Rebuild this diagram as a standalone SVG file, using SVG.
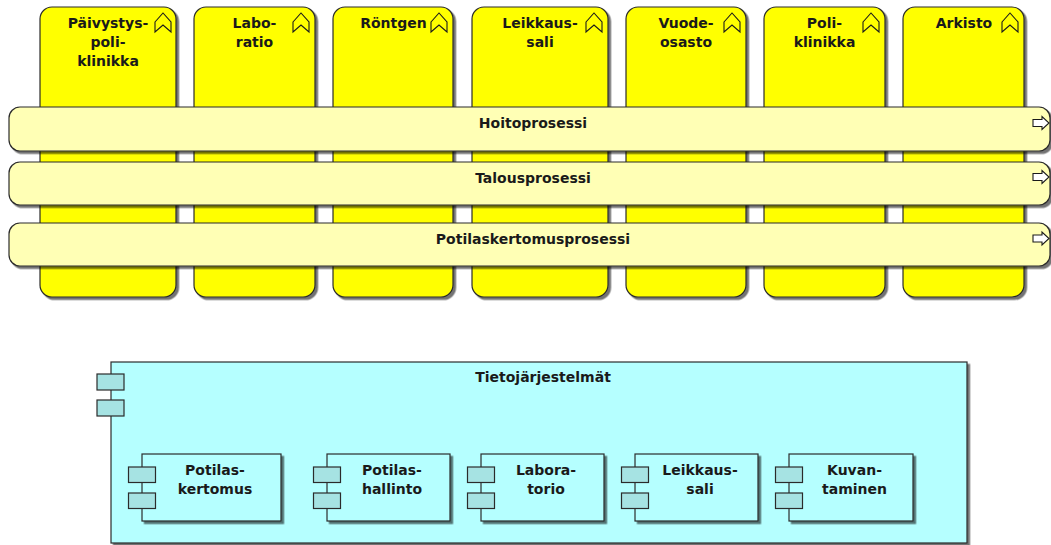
<svg xmlns="http://www.w3.org/2000/svg" width="1051" height="545" viewBox="0 0 1051 545">
  <defs>
    <filter id="shadow" x="-5%" y="-5%" width="115%" height="120%">
      <feDropShadow dx="2.5" dy="2.5" stdDeviation="0.7" flood-color="#000" flood-opacity="0.55"/>
    </filter>
    <!-- business function glyph (upward chevron) -->
    <path id="fn-icon" d="M0,9 L8,0 L16,9 L16,19 L8,12 L0,19 Z"/>
    <!-- process arrow glyph -->
    <path id="proc-icon" d="M0,-3.5 L9,-3.5 L9,-6.5 L16,0 L9,6.5 L9,3.5 L0,3.5 Z"/>
  </defs>
  <style>
    text { font-family: "DejaVu Sans", "Liberation Sans", sans-serif; font-weight: bold; font-size: 14px; fill: #1a1a1a; text-anchor: middle; }
    .func { fill: #ffff00; stroke: #2b2b2b; stroke-width: 1.2; filter: url(#shadow); }
    .proc { fill: #ffffb5; stroke: #2b2b2b; stroke-width: 1.2; filter: url(#shadow); }
    .comp { fill: #b5ffff; stroke: #2b2b2b; stroke-width: 1.2; filter: url(#shadow); }
    .port { fill: #a6e3e3; stroke: #2b2b2b; stroke-width: 1.2; }
    .glyph { fill: none; stroke: #1a1a1a; stroke-width: 1.1; stroke-linejoin: miter; }
    .glyph-w { fill: #ffffff; stroke: #1a1a1a; stroke-width: 1.1; }
  </style>

  <rect width="1051" height="545" fill="#ffffff"/>

  <!-- business functions (columns) -->
  <g id="fn-paivystys">
    <rect class="func" x="40" y="7" width="136" height="290" rx="12"/>
    <use href="#fn-icon" class="glyph" x="155" y="13"/>
    <text x="108" y="28">Päivystys-</text>
    <text x="108" y="47">poli-</text>
    <text x="108" y="66">klinikka</text>
  </g>
  <g id="fn-laboratio">
    <rect class="func" x="194" y="7" width="121" height="290" rx="12"/>
    <use href="#fn-icon" class="glyph" x="293" y="13"/>
    <text x="254.5" y="28">Labo-</text>
    <text x="254.5" y="47">ratio</text>
  </g>
  <g id="fn-rontgen">
    <rect class="func" x="333" y="7" width="120" height="290" rx="12"/>
    <use href="#fn-icon" class="glyph" x="431" y="13"/>
    <text x="393.5" y="28">Röntgen</text>
  </g>
  <g id="fn-leikkaussali">
    <rect class="func" x="472" y="7" width="136" height="290" rx="12"/>
    <use href="#fn-icon" class="glyph" x="586" y="13"/>
    <text x="540" y="28">Leikkaus-</text>
    <text x="540" y="47">sali</text>
  </g>
  <g id="fn-vuodeosasto">
    <rect class="func" x="626" y="7" width="120" height="290" rx="12"/>
    <use href="#fn-icon" class="glyph" x="724" y="13"/>
    <text x="686" y="28">Vuode-</text>
    <text x="686" y="47">osasto</text>
  </g>
  <g id="fn-poliklinikka">
    <rect class="func" x="764" y="7" width="121" height="290" rx="12"/>
    <use href="#fn-icon" class="glyph" x="863" y="13"/>
    <text x="824.5" y="28">Poli-</text>
    <text x="824.5" y="47">klinikka</text>
  </g>
  <g id="fn-arkisto">
    <rect class="func" x="903" y="7" width="121" height="290" rx="12"/>
    <use href="#fn-icon" class="glyph" x="1002" y="13"/>
    <text x="964" y="28">Arkisto</text>
  </g>

  <!-- business processes (rows) -->
  <g id="proc-hoito">
    <rect class="proc" x="9" y="107" width="1041" height="44" rx="11"/>
    <use href="#proc-icon" class="glyph-w" x="1033" y="123"/>
    <text x="533" y="128">Hoitoprosessi</text>
  </g>
  <g id="proc-talous">
    <rect class="proc" x="9" y="162" width="1041" height="43" rx="11"/>
    <use href="#proc-icon" class="glyph-w" x="1033" y="177"/>
    <text x="533" y="183">Talousprosessi</text>
  </g>
  <g id="proc-potilaskertomus">
    <rect class="proc" x="9" y="223" width="1041" height="43" rx="11"/>
    <use href="#proc-icon" class="glyph-w" x="1033" y="238.5"/>
    <text x="533" y="244">Potilaskertomusprosessi</text>
  </g>

  <!-- application components -->
  <g id="comp-tietojarjestelmat">
    <rect class="comp" x="111" y="362" width="856" height="181"/>
    <rect class="port" x="97" y="374" width="27" height="16"/>
    <rect class="port" x="97" y="400" width="27" height="16"/>
    <text x="543" y="382">Tietojärjestelmät</text>
  </g>
  <g id="comp-potilaskertomus">
    <rect class="comp" x="142" y="454" width="139" height="67"/>
    <rect class="port" x="128.5" y="467" width="27" height="15.5"/>
    <rect class="port" x="128.5" y="493" width="27" height="15.5"/>
    <text x="215" y="475">Potilas-</text>
    <text x="215" y="494">kertomus</text>
  </g>
  <g id="comp-potilashallinto">
    <rect class="comp" x="327" y="454" width="123" height="67"/>
    <rect class="port" x="313.5" y="467" width="27" height="15.5"/>
    <rect class="port" x="313.5" y="493" width="27" height="15.5"/>
    <text x="392" y="475">Potilas-</text>
    <text x="392" y="494">hallinto</text>
  </g>
  <g id="comp-laboratorio">
    <rect class="comp" x="481" y="454" width="123" height="67"/>
    <rect class="port" x="467.5" y="467" width="27" height="15.5"/>
    <rect class="port" x="467.5" y="493" width="27" height="15.5"/>
    <text x="546" y="475">Labora-</text>
    <text x="546" y="494">torio</text>
  </g>
  <g id="comp-leikkaussali">
    <rect class="comp" x="635" y="454" width="123" height="67"/>
    <rect class="port" x="621.5" y="467" width="27" height="15.5"/>
    <rect class="port" x="621.5" y="493" width="27" height="15.5"/>
    <text x="700" y="475">Leikkaus-</text>
    <text x="700" y="494">sali</text>
  </g>
  <g id="comp-kuvantaminen">
    <rect class="comp" x="789" y="454" width="124" height="67"/>
    <rect class="port" x="775.5" y="467" width="27" height="15.5"/>
    <rect class="port" x="775.5" y="493" width="27" height="15.5"/>
    <text x="854.5" y="475">Kuvan-</text>
    <text x="854.5" y="494">taminen</text>
  </g>
</svg>
